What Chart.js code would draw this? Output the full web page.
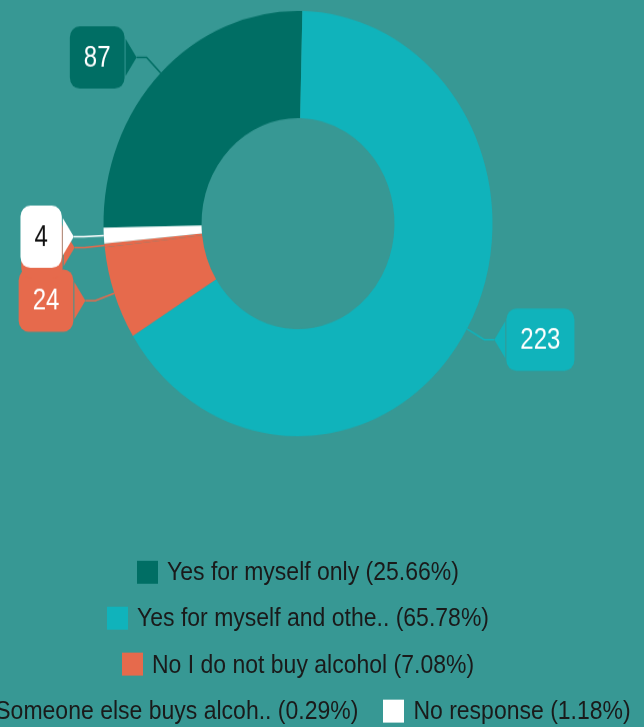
<!DOCTYPE html>
<html>
<head>
<meta charset="utf-8">
<script src="https://cdn.jsdelivr.net/npm/chart.js@4"></script>
<style>
  html, body { margin:0; padding:0; width:644px; height:727px; overflow:hidden; background:#379894; }
  #stage { position:absolute; left:0; top:0; width:644px; height:665px; transform:scaleY(1.0932); transform-origin:0 0; }
  #c { position:absolute; left:0; top:0; }
  .row { position:absolute; left:0; width:596px; height:30px; display:flex; align-items:center; justify-content:center; white-space:nowrap; }
  .item { display:flex; align-items:center; flex:none; }
  .item + .item { margin-left:25px; }
  .sw { width:21px; height:21px; margin-right:9px; flex:none; }
  .tx { font-family:"Liberation Sans", Arial, sans-serif; font-size:23px; color:#1a1a1a; line-height:30px; }
</style>
</head>
<body>
<div id="stage">
  <canvas id="c" width="644" height="665"></canvas>
  <div id="legend"></div>
</div>
<script>
// ---- data ----
const categories = ["Yes for myself only", "Yes for myself and othe..", "No I do not buy alcohol", "Someone else buys alcoh..", "No response"];
const values = [87, 223, 24, 1, 4];
const percentLabels = ["25.66%", "65.78%", "7.08%", "0.29%", "1.18%"];
const sliceColors = ["#006e64", "#10b3bb", "#e66a4c", "#e66a4c", "#ffffff"];
const valueTextColors = ["#ffffff", "#ffffff", "#ffffff", "#ffffff", "#111111"];
const legendRows = [[0], [1], [2], [3, 4]];

// ---- HTML legend (built from the arrays) ----
const legendEl = document.getElementById('legend');
const rowCenters = [523, 565, 607.5, 650];
legendRows.forEach((row, r) => {
  const rowEl = document.createElement('div');
  rowEl.className = 'row';
  rowEl.style.top = (rowCenters[r] - 15) + 'px';
  row.forEach(i => {
    const it = document.createElement('div');
    it.className = 'item';
    const sw = document.createElement('div');
    sw.className = 'sw';
    sw.style.background = sliceColors[i];
    const tx = document.createElement('span');
    tx.className = 'tx';
    tx.textContent = categories[i] + ' (' + percentLabels[i] + ')';
    it.appendChild(sw); it.appendChild(tx);
    rowEl.appendChild(it);
  });
  legendEl.appendChild(rowEl);
});

// ---- callout labels plugin ----
const SX = 0.89;
const calloutPlugin = {
  id: 'callouts',
  afterDatasetsDraw(chart) {
    const ctx = chart.ctx;
    const meta = chart.getDatasetMeta(0);
    const ds = chart.data.datasets[0];
    meta.data.forEach((arc, i) => {
      const p = arc.getProps(['x','y','startAngle','endAngle','outerRadius'], true);
      const mid = (p.startAngle + p.endAngle) / 2;
      const c = Math.cos(mid), s = Math.sin(mid);
      const ax = p.x + c * p.outerRadius, ay = p.y + s * p.outerRadius;
      const bx = p.x + c * (p.outerRadius + 20), by = p.y + s * (p.outerRadius + 20);
      const dir = c >= 0 ? 1 : -1;
      const tx = bx + dir * 10;
      const col = ds.backgroundColor[i];
      const text = String(ds.data[i]);
      ctx.save();
      ctx.font = '27px "Liberation Sans", Arial, sans-serif';
      const tw = ctx.measureText(text).width * SX;
      const w = tw + 28, h = 57, ptr = 12, hh = 17, rad = 10;
      const edge = tx + dir * ptr;
      const left = dir > 0 ? edge : edge - w;
      const top = by - h / 2;
      // leader line
      ctx.strokeStyle = col;
      ctx.lineWidth = 1.5;
      ctx.beginPath();
      ctx.moveTo(ax, ay); ctx.lineTo(bx, by); ctx.lineTo(tx, by);
      ctx.stroke();
      // box + pointer
      ctx.fillStyle = col;
      ctx.beginPath();
      ctx.roundRect(left, top, w, h, rad);
      ctx.fill();
      ctx.beginPath();
      ctx.moveTo(edge - dir * 1, by - hh);
      ctx.lineTo(tx, by);
      ctx.lineTo(edge - dir * 1, by + hh);
      ctx.closePath();
      ctx.fill();
      // value text
      ctx.translate(left + w / 2, by);
      ctx.scale(SX, 1);
      ctx.fillStyle = valueTextColors[i];
      ctx.textAlign = 'center';
      ctx.textBaseline = 'middle';
      ctx.fillText(text, 0, 1);
      ctx.restore();
    });
  }
};

new Chart(document.getElementById('c'), {
  type: 'doughnut',
  data: {
    labels: categories,
    datasets: [{
      data: values,
      backgroundColor: sliceColors,
      borderWidth: 0,
      hoverOffset: 0,
      offset: 0
    }]
  },
  options: {
    responsive: false,
    animation: false,
    rotation: -91.1,
    cutout: '49.6%',
    layout: { padding: { left: 103.5, right: 151.5, top: 10, bottom: 266 } },
    plugins: { legend: { display: false }, tooltip: { enabled: false } }
  },
  plugins: [calloutPlugin]
});
</script>
</body>
</html>
